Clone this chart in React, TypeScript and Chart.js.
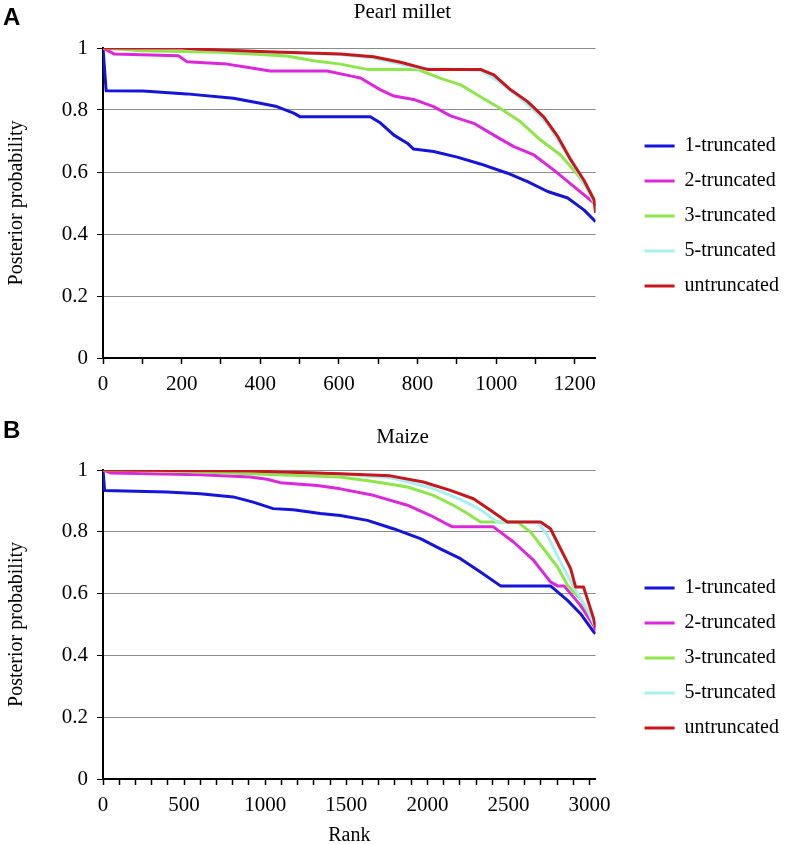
import React, { useEffect, useRef } from 'react';
import { Chart, registerables } from 'chart.js';

Chart.register(...registerables);

const SERIF = "'Liberation Serif', 'Times New Roman', serif";
Chart.defaults.font.family = SERIF;
Chart.defaults.color = '#000';

// ---- shared series info ----
const seriesLabels = ['1-truncated', '2-truncated', '3-truncated', '5-truncated', 'untruncated'];
const seriesColors = ['#1414dc', '#dc28dc', '#8ee64a', '#a8f0f0', '#c8161d'];
const yTickValues = [0, 0.2, 0.4, 0.6, 0.8, 1];

// ---- Panel A: Pearl millet ----
const pearlTitle = 'Pearl millet';
const pearlRankMax = 1253;
const pearlMinorStep = 100;
const pearlMajorStep = 200;

const pearlRank1 = [0, 8, 102, 213, 332, 400, 442, 485, 502, 680, 706, 740, 774, 790, 841, 901, 960, 1029, 1080, 1131, 1182, 1224, 1253];
const pearlProb1 = [1.0, 0.862, 0.861, 0.852, 0.838, 0.822, 0.811, 0.79, 0.778, 0.778, 0.758, 0.719, 0.693, 0.674, 0.666, 0.648, 0.626, 0.596, 0.569, 0.537, 0.516, 0.477, 0.44];

const pearlRank2 = [0, 28, 192, 213, 315, 366, 425, 570, 629, 655, 706, 740, 790, 841, 884, 943, 994, 1045, 1096, 1147, 1198, 1249, 1253];
const pearlProb2 = [1.0, 0.981, 0.975, 0.956, 0.948, 0.938, 0.926, 0.926, 0.91, 0.903, 0.865, 0.845, 0.834, 0.811, 0.781, 0.757, 0.719, 0.682, 0.655, 0.606, 0.553, 0.5, 0.49];

const pearlRank3 = [0, 100, 300, 468, 535, 604, 672, 800, 859, 910, 960, 1011, 1062, 1113, 1164, 1208, 1241, 1253];
const pearlProb3 = [1.0, 0.991, 0.986, 0.974, 0.959, 0.948, 0.931, 0.931, 0.902, 0.881, 0.843, 0.805, 0.762, 0.703, 0.655, 0.59, 0.532, 0.5];

const pearlRank5 = [0, 200, 247, 417, 604, 688, 757, 800, 960, 1003, 1045, 1096, 1131, 1164, 1198, 1232, 1253];
const pearlProb5 = [1.0, 1.0, 0.995, 0.987, 0.979, 0.968, 0.948, 0.935, 0.928, 0.895, 0.855, 0.8, 0.755, 0.69, 0.62, 0.545, 0.49];

const pearlRankU = [0, 200, 247, 417, 604, 688, 757, 825, 960, 994, 1037, 1080, 1121, 1157, 1190, 1223, 1249, 1253];
const pearlProbU = [1.0, 1.0, 0.996, 0.988, 0.981, 0.972, 0.954, 0.931, 0.931, 0.913, 0.865, 0.827, 0.778, 0.714, 0.639, 0.574, 0.51, 0.468];

// ---- Panel B: Maize ----
const maizeTitle = 'Maize';
const maizeRankMax = 3037;
const maizeMinorStep = 100;
const maizeMajorStep = 500;
const maizeXTitle = 'Rank';

const maizeRank1 = [0, 10, 394, 599, 803, 926, 1049, 1173, 1340, 1463, 1630, 1790, 1957, 2080, 2204, 2327, 2451, 2759, 2864, 2944, 3025, 3037];
const maizeProb1 = [1.0, 0.934, 0.929, 0.923, 0.913, 0.896, 0.875, 0.871, 0.859, 0.853, 0.837, 0.81, 0.778, 0.745, 0.713, 0.67, 0.625, 0.625, 0.578, 0.535, 0.476, 0.47];

const maizeRank2 = [0, 50, 599, 907, 1012, 1093, 1321, 1463, 1667, 1877, 2037, 2154, 2407, 2531, 2654, 2759, 2802, 2843, 2944, 3025, 3037];
const maizeProb2 = [1.0, 0.99, 0.985, 0.977, 0.97, 0.959, 0.95, 0.939, 0.918, 0.886, 0.848, 0.816, 0.816, 0.767, 0.708, 0.638, 0.625, 0.625, 0.562, 0.497, 0.48];

const maizeRank3 = [0, 500, 907, 1463, 1667, 1877, 2037, 2160, 2247, 2327, 2555, 2636, 2716, 2802, 2864, 2944, 3025, 3037];
const maizeProb3 = [1.0, 0.995, 0.988, 0.977, 0.963, 0.945, 0.918, 0.886, 0.859, 0.832, 0.832, 0.799, 0.745, 0.686, 0.627, 0.583, 0.508, 0.49];

const maizeRank5 = [0, 900, 1463, 1772, 1877, 2037, 2204, 2327, 2430, 2680, 2738, 2821, 2904, 2985, 3037];
const maizeProb5 = [1.0, 0.997, 0.987, 0.975, 0.962, 0.94, 0.905, 0.872, 0.832, 0.832, 0.79, 0.702, 0.62, 0.55, 0.49];

const maizeRankU = [0, 900, 1463, 1772, 1975, 2142, 2284, 2389, 2493, 2698, 2759, 2821, 2883, 2914, 2963, 3025, 3037];
const maizeProbU = [1.0, 0.997, 0.988, 0.981, 0.961, 0.934, 0.907, 0.87, 0.832, 0.832, 0.81, 0.745, 0.681, 0.621, 0.621, 0.519, 0.49];

type PanelSpec = {
  title: string;
  rankMax: number;
  minorStep: number;
  majorStep: number;
  ranks: number[][];
  probs: number[][];
  xTitle?: string;
  canvasHeight: number;
  titleGap: number;
  axisHeight: number;
  legendOffset: number;
};

function buildConfig(p: PanelSpec): any {
  const datasets = p.ranks.map((rk, i) => ({
    label: seriesLabels[i],
    data: rk.map((x, j) => ({ x, y: p.probs[i][j] })),
    borderColor: seriesColors[i],
    backgroundColor: seriesColors[i],
    borderWidth: 3,
    pointRadius: 0,
    pointHoverRadius: 0,
    tension: 0,
    borderJoinStyle: 'round',
    order: seriesLabels.length - 1 - i,
  }));
  return {
    type: 'line',
    data: { datasets },
    options: {
      responsive: false,
      animation: false,
      devicePixelRatio: 1,
      events: [],
      layout: { padding: { left: 16, right: 0, top: 0, bottom: 0 } },
      plugins: {
        title: {
          display: true,
          text: p.title,
          color: '#000',
          font: { family: SERIF, size: 21, weight: 'normal', lineHeight: 1.2 },
          padding: { top: 0, bottom: p.titleGap },
        },
        legend: {
          position: 'right',
          align: 'start',
          maxWidth: 220,
          title: {
            display: true,
            text: '',
            font: { size: 10, lineHeight: 1 },
            padding: { top: p.legendOffset - 10, bottom: 0 },
          },
          labels: {
            usePointStyle: true,
            pointStyle: 'line',
            pointStyleWidth: 30,
            padding: 15,
            color: '#000',
            font: { family: SERIF, size: 20 },
            sort: (a: any, b: any) => a.datasetIndex - b.datasetIndex,
          },
        },
        tooltip: { enabled: false },
      },
      scales: {
        x: {
          type: 'linear',
          min: 0,
          max: p.rankMax,
          afterFit: (s: any) => {
            s.height = p.axisHeight;
          },
          border: { display: true, color: '#000', width: 2 },
          grid: {
            display: true,
            drawOnChartArea: false,
            drawTicks: true,
            tickLength: 6,
            tickColor: '#000',
            tickWidth: 1.5,
          },
          ticks: {
            stepSize: p.minorStep,
            includeBounds: false,
            autoSkip: false,
            maxRotation: 0,
            minRotation: 0,
            padding: 8,
            color: '#000',
            font: { family: SERIF, size: 21 },
            callback: (v: number) => (v % p.majorStep === 0 ? String(v) : ''),
          },
          title: p.xTitle
            ? {
                display: true,
                text: p.xTitle,
                color: '#000',
                font: { family: SERIF, size: 20, lineHeight: 1.2 },
                padding: { top: 0, bottom: -4 },
              }
            : { display: false },
        },
        y: {
          type: 'linear',
          min: 0,
          max: 1,
          afterFit: (s: any) => {
            s.width = 87;
          },
          afterBuildTicks: (s: any) => {
            s.ticks = yTickValues.map((v) => ({ value: v }));
          },
          border: { display: true, color: '#000', width: 2 },
          grid: {
            color: '#8c8c8c',
            lineWidth: 1,
            drawTicks: true,
            tickLength: 6,
            tickColor: '#000',
          },
          ticks: {
            padding: 9,
            color: '#000',
            font: { family: SERIF, size: 21 },
            callback: (v: number) => String(Math.round(v * 10) / 10),
          },
          title: {
            display: true,
            text: 'Posterior probability',
            color: '#000',
            font: { family: SERIF, size: 20, lineHeight: 1.2 },
            padding: { top: -11, bottom: 0 },
          },
        },
        gap: {
          type: 'linear',
          position: 'right',
          display: true,
          grid: { display: false },
          border: { display: false },
          ticks: { display: false },
          afterFit: (s: any) => {
            s.width = 34;
          },
        },
      },
    },
  };
}

function Panel({ spec, top }: { spec: PanelSpec; top: number }) {
  const ref = useRef<HTMLCanvasElement | null>(null);
  useEffect(() => {
    if (!ref.current) return;
    const chart = new Chart(ref.current, buildConfig(spec));
    return () => chart.destroy();
  }, [spec]);
  return (
    <canvas
      ref={ref}
      width={789}
      height={spec.canvasHeight}
      style={{ position: 'absolute', left: 0, top, width: 789, height: spec.canvasHeight, display: 'block' }}
    />
  );
}

const pearlSpec: PanelSpec = {
  title: pearlTitle,
  rankMax: pearlRankMax,
  minorStep: pearlMinorStep,
  majorStep: pearlMajorStep,
  ranks: [pearlRank1, pearlRank2, pearlRank3, pearlRank5, pearlRankU],
  probs: [pearlProb1, pearlProb2, pearlProb3, pearlProb5, pearlProbU],
  canvasHeight: 425,
  titleGap: 22.8,
  axisHeight: 67,
  legendOffset: 121,
};

const maizeSpec: PanelSpec = {
  title: maizeTitle,
  rankMax: maizeRankMax,
  minorStep: maizeMinorStep,
  majorStep: maizeMajorStep,
  ranks: [maizeRank1, maizeRank2, maizeRank3, maizeRank5, maizeRankU],
  probs: [maizeProb1, maizeProb2, maizeProb3, maizeProb5, maizeProbU],
  xTitle: maizeXTitle,
  canvasHeight: 419,
  titleGap: 19.8,
  axisHeight: 65,
  legendOffset: 138,
};

const letterStyle: React.CSSProperties = {
  position: 'absolute',
  left: 3,
  fontFamily: "'Liberation Sans', Arial, sans-serif",
  fontWeight: 'bold',
  fontSize: 24,
  lineHeight: '24px',
  color: '#000',
};

export default function App() {
  return (
    <div
      style={{
        position: 'absolute',
        left: 0,
        top: 0,
        width: 789,
        height: 844,
        overflow: 'hidden',
        background: '#fff',
      }}
    >
      <Panel spec={pearlSpec} top={0} />
      <Panel spec={maizeSpec} top={425} />
      <div style={{ ...letterStyle, top: 5 }}>A</div>
      <div style={{ ...letterStyle, top: 418 }}>B</div>
    </div>
  );
}
